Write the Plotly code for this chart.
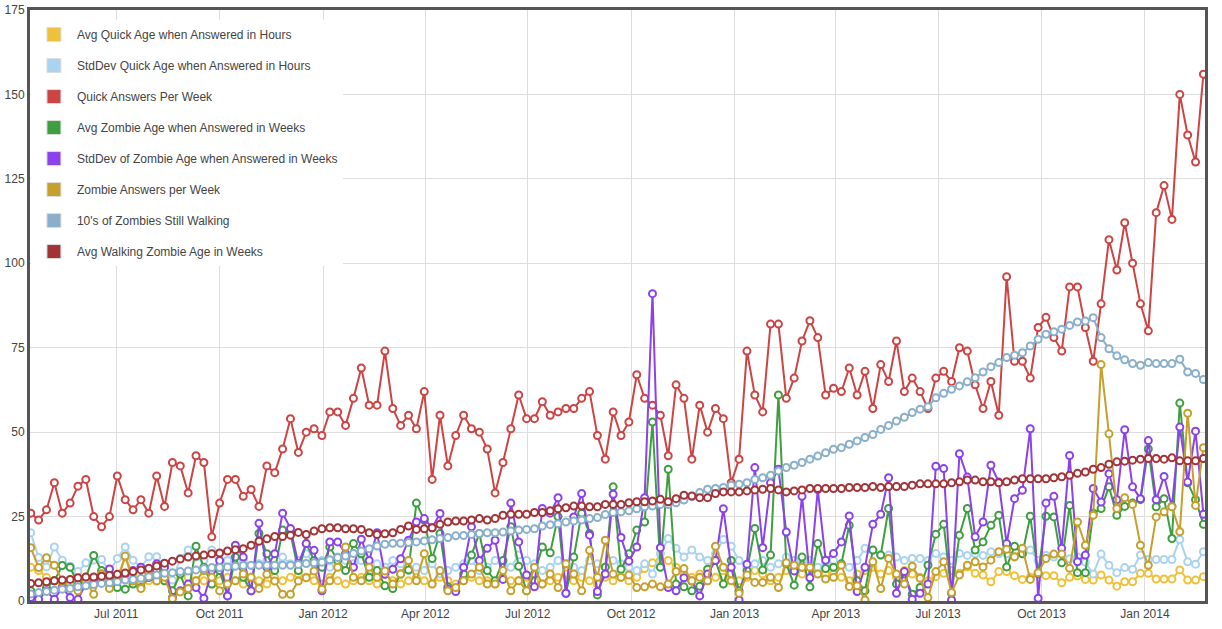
import plotly.graph_objects as go
import pandas as pd

# Weekly dates (one point per week)
week_start = "2011-04-16"
n_weeks = 150
weeks = pd.date_range(week_start, periods=n_weeks, freq="7D")

avg_quick_age_hours = [
    10, 9, 7, 6, 5, 4, 5, 6, 5, 6, 5, 7,
    13, 8, 5, 6, 7, 6, 5, 8, 7, 6, 6, 5,
    6, 7, 6, 5, 7, 6, 5, 7, 6, 7, 8, 7,
    6, 5, 7, 6, 5, 6, 7, 6, 5, 8, 6, 5, 6, 7,
    6, 5, 7, 6, 5, 6, 7, 6, 6, 5, 7, 6, 6,
    7, 6, 5, 6, 7, 8, 6, 7, 6, 5, 7, 6, 7,
    6, 7, 9.6, 11.3, 12.1, 12, 10, 8, 7, 8, 6, 7, 7,
    8, 6, 7, 9, 8, 6, 7, 9, 10, 8, 10, 9, 8,
    8, 7, 6, 8, 9, 10, 8, 9, 7, 9, 8, 7, 6,
    7.2, 8.2, 9, 8.2, 10.1, 8.2, 7.7, 5.7, 8.7, 8.7, 7.5, 6.4, 7,
    8, 7.5, 7.5, 5.4, 7, 7.4, 6.4, 6.2, 7.7, 6.2, 4.4, 5.7, 5.7,
    8.2, 8.2, 6.5, 6.5, 6.5, 9.2, 6.2, 6.2, 7.2,
]

stddev_quick_age_hours = [
    20.2, 12.9, 10.1, 16, 12.1, 10.3, 8.7, 11.3, 12.1, 12.3, 8.7, 12.6,
    16, 12.1, 10, 13.1, 13.1, 10.1, 6.2, 12.6, 15.1, 13, 12, 15.1,
    10, 12, 14.6, 12, 10.5, 11, 12, 10, 13, 11, 12, 14,
    11, 12, 10, 13, 12, 11, 12, 9, 11, 10, 12, 11, 9, 10,
    9, 11, 8, 9, 10, 11, 12, 9, 10, 12, 11, 10, 13.6,
    12, 11, 9, 10, 12, 11, 10, 9, 12, 11, 10, 12, 11,
    10, 9, 11, 8, 14, 18.5, 15.6, 13, 15.1, 13, 12, 14, 18.2,
    16.2, 12, 10, 11, 12, 10, 11, 13, 12, 11, 12, 10, 11,
    12, 11, 10, 12, 15.6, 15, 13.6, 13.6, 13, 12, 12.6, 12.6, 12,
    14.1, 13, 12, 14.1, 13.5, 14, 13.5, 14.6, 14, 14, 13, 14, 15.1,
    12, 13.5, 13, 14, 12.5, 13, 11.5, 8, 13.9, 10.6, 8.4, 9.9, 9.4,
    13.6, 12.3, 12.3, 12.3, 12.3, 18.2, 11.6, 10.9, 14.6,
]

quick_answers_per_week = [
    26, 24, 27, 35, 26, 29, 34, 36, 25, 22,
    25, 37, 30, 27, 30, 26, 37, 28, 41, 40,
    32, 43, 41, 19, 29, 36, 36, 31, 33, 28,
    40, 38, 45, 54, 44, 50,
    51, 49, 56, 56, 52, 60, 69, 58, 58, 74,
    57, 52, 55, 51, 62, 36, 55, 40, 49, 55,
    51, 50, 45, 32, 41, 51, 61, 54, 54, 59,
    55, 56, 57, 57, 60, 62, 49, 42,
    56, 49, 53, 67, 60, 58, 55, 43, 64, 60,
    42, 58, 50, 57, 54, 35, 42, 74, 61, 56,
    82, 82, 60, 66, 77, 83, 78, 61, 63, 62,
    69, 61, 68, 57, 70, 65, 77, 62,
    66, 62, 57, 66, 68, 65, 75, 74, 64, 57,
    65, 55, 96, 71, 71, 66, 81, 84, 78, 74,
    93, 93, 81, 71, 88, 107, 98, 112, 100, 88,
    80, 115, 123, 113, 150, 138, 130, 156,
]

avg_zombie_age_weeks = [
    3, 2, 4, 6, 10.5, 10, 5, 7, 13.5, 9, 7, 4,
    3.5, 5, 4, 7, 9, 6, 3, 8, 1.5, 16.2, 10, 5,
    9, 1.5, 13, 7, 3, 20, 14, 9, 21, 20, 9, 17,
    12, 10, 16, 12, 9, 17, 14, 7, 9, 4.5, 3.7, 8, 9.2, 29,
    24, 12.6, 20, 4.2, 3, 8, 13.6, 20, 9, 6, 12, 22, 10.3,
    3, 8, 16, 14.3, 25, 2.3, 13, 26, 20, 1.8, 10, 33.8, 9.4,
    14, 21, 23.4, 53, 10, 39, 5, 4.2, 3, 4.4, 9.4, 12, 5,
    12, 3, 9, 21.5, 9.2, 13.6, 61, 11, 4.7, 13, 4.2, 17, 9.6,
    10, 11, 22.4, 6, 3, 15.1, 13.6, 27.4, 5, 8, 2, 4, 10.6,
    19.8, 22.7, 2.3, 19.5, 27.4, 15.1, 17.5, 22.4, 25.4, 10.1, 16.2, 14, 25.1,
    8.2, 25.1, 24.9, 11.3, 28.3, 8.4, 8.4, 26, 27.4, 33.8, 25.4, 28, 29,
    30, 45, 27.9, 30.3, 18.5, 58.6, 35, 30, 22.7,
]

stddev_zombie_age_weeks = [
    1.0, 0.5, 3, 0.5, 4, 1.0, 0.5, 5, 6, 8, 9.5, 7,
    8, 9, 10, 7, 11, 10, 1, 3, 5, 4, 0.8, 9,
    12, 1.5, 16.5, 13, 3, 23, 10, 14, 26, 21.5, 11, 17,
    15, 3, 17.5, 17.5, 14, 10, 18.3, 12, 20.2, 7.9, 9.4, 12.5, 18, 23.4,
    24.4, 21.7, 25.9, 3.5, 2.8, 10, 22, 12, 15.6, 18, 6.4, 29, 17.5,
    7.7, 4.2, 27.4, 26, 30.6, 2.3, 24.9, 31.8, 19.5, 2.8, 8, 31.6, 18.8,
    11.8, 16, 30.6, 91, 15.8, 4, 3, 6.9, 5.9, 1.5, 8, 12, 27.3,
    10, 0.3, 10.9, 39.5, 15.8, 35, 39, 20.4, 8.9, 31, 6.9, 33, 12.1,
    14.1, 17.5, 25.2, 2.8, 10, 22.7, 25.7, 36.5, 2.3, 8.7, 0.5, 2.3, 5,
    39.9, 39.2, 0.3, 43.6, 36.7, 19, 23.4, 40.2, 35.2, 17, 30.3, 32.8, 51,
    0.8, 29, 31, 15.6, 43.1, 11.6, 13.6, 33.3, 29.3, 37.7, 30, 50.7, 33.8,
    30.3, 47.5, 30, 36.9, 28, 51.5, 35.2, 50.3, 25.7,
]

zombie_answers_per_week = [
    15.8, 9.9, 12.8, 10.6, 6, 5, 3, 6, 2, 8, 3.7, 6,
    13.3, 5.9, 3.7, 8, 5.9, 7, 0.7, 2.7, 3.7, 6, 9, 7,
    3, 5, 6, 8, 7, 3.7, 7.9, 5.9, 2, 2, 5.9, 6.9,
    8.9, 3.5, 6, 10, 16, 7, 6, 10, 7, 8.9, 5, 8, 12, 6,
    14, 5, 9, 3, 4, 6, 8, 10, 5, 5, 9, 3, 6,
    3, 10, 5, 8, 4, 11, 8, 3, 15, 7, 18, 8, 7,
    7.7, 4, 4.2, 5, 4.2, 5, 8.7, 9.6, 6, 7, 6, 16.2, 10,
    6, 2.3, 7.7, 5.5, 5.5, 7, 4, 11.3, 10.6, 10, 10, 8, 6.5,
    7, 10.6, 4.3, 4.5, 0.3, 11.6, 3.7, 12.6, 8, 5, 10.3, 6.7, 1,
    8.7, 11.6, 2.5, 7.7, 10.6, 11.6, 10.1, 12.1, 14.6, 15.3, 13.1, 15.6, 6.4,
    8.4, 12.6, 13.9, 13.9, 9.7, 23.4, 16.5, 25.4, 70, 49.5, 27.4, 30.6, 28.6,
    16.5, 10.6, 24.9, 26.4, 27.9, 20.5, 55.6, 28.3, 45.4,
]

tens_of_zombies_walking = [
    2.1, 2.5, 2.8, 3.2, 3.5, 3.7, 4.2, 4.5, 4.9, 5.2,
    5.4, 5.7, 6.2, 6.4, 6.7, 7.2, 7.7, 8.2, 8.4, 8.7,
    8.9, 9.2, 9.6, 9.9, 9.9, 10.1, 10.3, 10.5, 10.6, 10.6,
    10.6, 10.6, 10.6, 10.6, 10.8, 11.1, 11.3, 11.5, 12.2,
    12.9, 13.3, 14.1, 14.8, 15.5, 16.3, 16.8, 17.1, 17.1, 17.3,
    17.5, 17.8, 18.1, 18.5, 18.8, 19.3, 19.4, 19.7, 20.0, 20.2,
    20.2, 20.4, 20.7, 21.0, 21.2, 21.4, 22.2, 22.6, 22.9, 23.4,
    23.7, 24.0, 24.4, 24.7, 25.6,
    26.2, 26.4, 26.7, 27.3, 27.9, 28.1, 28.6, 28.6, 29.1, 29.9,
    30.9, 32.1, 33.1, 33.3, 33.6, 34.3, 34.6, 35.0, 36.0, 36.5,
    37.2, 38.5, 39.5, 40.2, 41.0, 42.0, 42.9, 43.9, 44.9, 45.4,
    46.4, 47.4, 48.4, 49.3, 50.8, 52.0, 53.3, 54.4,
    55.8, 56.8, 57.5, 60.2, 61.5, 62.7, 63.7, 64.9, 66.1, 67.8,
    69.4, 70.6, 72.1, 72.8, 73.5, 75.5, 77.5, 79.0, 79.7, 80.5,
    81.6, 82.6, 82.9, 83.9, 78.0, 74.7, 72.6, 71.4, 70.3, 69.8,
    70.6, 70.3, 70.3, 70.3, 71.6, 67.8, 67.4, 65.6,
]

avg_walking_zombie_age = [
    5.2, 5.4, 5.7, 6.0, 6.2, 6.4, 6.9, 7.1, 7.1, 7.3,
    7.6, 7.9, 8.3, 8.7, 9.2, 9.7, 10.4, 11.2, 11.8, 12.4,
    13.0, 13.3, 13.6, 14.0, 14.2, 14.8, 15.2, 15.5, 16.5, 17.7,
    18.4, 19.1, 19.1, 19.5, 20.3, 19.7, 20.7, 21.4, 21.7,
    21.7, 21.4, 21.4, 21.2, 20.2, 19.7, 19.9, 20.2, 21.2, 22.2,
    21.2, 21.4, 21.7, 22.7, 23.4, 23.7, 23.7, 24.0, 24.4, 24.0,
    24.4, 25.4, 25.7, 25.7, 25.7, 26.2, 26.2, 26.7, 27.3, 27.6,
    28.1, 28.1, 27.9, 27.9, 28.6,
    28.6, 28.6, 29.1, 29.4, 29.4, 29.6, 30.1, 29.4, 30.3, 31.3,
    31.1, 30.6, 30.6, 31.8, 32.3, 32.3, 32.3, 32.6, 32.9, 33.1,
    33.3, 32.9, 32.3, 32.6, 32.9, 33.3, 33.3, 33.3, 33.3, 33.3,
    33.6, 33.6, 33.6, 33.9, 33.6, 33.9, 33.9, 33.9,
    34.3, 34.7, 34.7, 34.7, 34.7, 35.0, 35.3, 35.8, 35.8, 35.3,
    35.3, 35.0, 35.3, 35.8, 36.2, 36.2, 36.2, 36.2, 36.5, 36.8,
    37.2, 37.8, 38.2, 39.0, 39.5, 40.5, 41.2, 41.4, 41.7, 42.0,
    42.2, 42.2, 42.0, 42.4, 41.5, 41.5, 41.5, 42.2,
]

series_names = [
    "Avg Quick Age when Answered in Hours",
    "StdDev Quick Age when Answered in Hours",
    "Quick Answers Per Week",
    "Avg Zombie Age when Answered in Weeks",
    "StdDev of Zombie Age when Answered in Weeks",
    "Zombie Answers per Week",
    "10's of Zombies Still Walking",
    "Avg Walking Zombie Age in Weeks",
]
series_values = [
    avg_quick_age_hours,
    stddev_quick_age_hours,
    quick_answers_per_week,
    avg_zombie_age_weeks,
    stddev_zombie_age_weeks,
    zombie_answers_per_week,
    tens_of_zombies_walking,
    avg_walking_zombie_age,
]
series_colors = [
    "#EFC13A", "#A9D3F1", "#CC4444", "#3E9F3E",
    "#8B42EC", "#C6A02C", "#89AFCA", "#A23438",
]

for v in series_values:
    assert len(v) == n_weeks, len(v)

fig = go.Figure()
for name, vals, col in zip(series_names, series_values, series_colors):
    fig.add_trace(go.Scatter(
        x=weeks, y=vals, mode="lines+markers", name=name, showlegend=False,
        line=dict(color=col, width=2),
        marker=dict(symbol="circle", size=7, color="white",
                    line=dict(color=col, width=2)),
    ))

# legend swatches
for i, (name, col) in enumerate(zip(series_names, series_colors)):
    fig.add_trace(go.Scatter(
        x=[None], y=[None], mode="markers", name=name,
        legendgroup=f"g{i}", showlegend=True,
        marker=dict(symbol="square", size=14, color=col,
                    line=dict(color="#dddddd", width=1)),
    ))

x_start = weeks[0] - pd.Timedelta(hours=16)
x_end = weeks[-1] + pd.Timedelta(hours=34)

axis_font = dict(family="Arial, Liberation Sans, sans-serif", size=12, color="#444444")

fig.update_layout(
    width=1222, height=629, autosize=False,
    margin=dict(l=30, r=17, t=10, b=28, autoexpand=False),
    paper_bgcolor="white", plot_bgcolor="white",
    font=axis_font,
    showlegend=True,
    legend=dict(
        x=0.0008, y=0.983, xanchor="left", yanchor="top",
        bgcolor="white", borderwidth=0,
        font=dict(family="Arial, Liberation Sans, sans-serif", size=12, color="#444444"),
        traceorder="grouped", tracegroupgap=12, itemwidth=36,
    ),
    xaxis=dict(
        type="date", range=[x_start, x_end], automargin=False,
        tick0="2011-07-01", dtick="M3", tickformat="%b %Y",
        showgrid=True, gridcolor="#dddddd", gridwidth=1,
        showline=True, mirror=True, linecolor="#555555", linewidth=3,
        ticks="", zeroline=False, tickfont=axis_font,
    ),
    yaxis=dict(
        range=[0, 175], tick0=0, dtick=25, automargin=False,
        showgrid=True, gridcolor="#dddddd", gridwidth=1,
        showline=True, mirror=True, linecolor="#555555", linewidth=3,
        ticks="", zeroline=False, tickfont=axis_font,
    ),
)

fig.write_html("out.html")
